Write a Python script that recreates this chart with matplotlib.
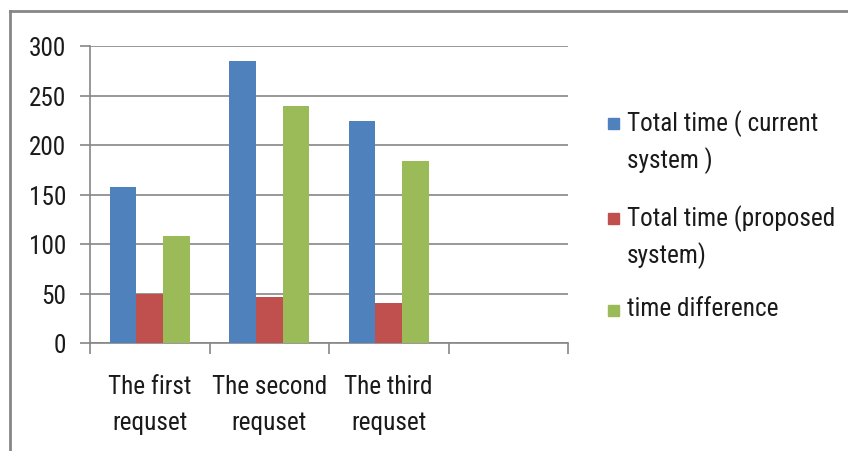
import matplotlib.pyplot as plt
from matplotlib import font_manager
from matplotlib.lines import Line2D
from matplotlib.patches import Rectangle
import numpy as np

categories = ["The first\nrequset", "The second\nrequset", "The third\nrequset", ""]
current_time = [158, 285, 224, 0]
proposed_time = [50, 46, 40, 0]
time_diff = [108, 239, 184, 0]
series_labels = [
    "Total time ( current\nsystem )",
    "Total time (proposed\nsystem)",
    "time difference",
]
colors = ["#4F81BD", "#C0504D", "#9BBB59"]

# the original uses a narrow font (Calibri); take the narrowest one we have
installed = {f.name for f in font_manager.fontManager.ttflist}
for fam in ["Liberation Sans Narrow", "DejaVu Sans Condensed", "Roboto Condensed",
            "Open Sans Condensed", "Lato", "Roboto", "DejaVu Sans"]:
    if fam in installed:
        break
plt.rcParams["font.family"] = [fam, "DejaVu Sans"]

W, H = 848, 452
fig = plt.figure(figsize=(W / 100, H / 100), dpi=100)

# scale font size so the longest legend line is ~209 px wide like the original
r = fig.canvas.get_renderer()
probe = fig.text(0, 0, "Total time (proposed", fontsize=18)
wpx = probe.get_window_extent(r).width
probe.remove()
fs = min(19, 18 * 209 / wpx)

ax = fig.add_axes([90 / W, 1 - 344 / H, 478 / W, 297 / H])

grid_c = "#868686"
x = np.arange(len(categories))
bw = 1 / 4.5
for i, vals in enumerate([current_time, proposed_time, time_diff]):
    ax.bar(x + (i - 1) * bw, vals, bw, color=colors[i], zorder=3)

ax.set_xlim(-0.5, len(categories) - 0.5)
ax.set_ylim(0, 300)
ax.set_yticks(range(0, 301, 50))
ax.yaxis.grid(True, color=grid_c, lw=1.2, zorder=0)
for s in ["top", "right"]:
    ax.spines[s].set_visible(False)
ax.spines["left"].set_color(grid_c)
ax.spines["bottom"].set_color(grid_c)
ax.spines["left"].set_linewidth(1.2)
ax.spines["bottom"].set_linewidth(1.2)

# category labels centred, boundary ticks as minor ticks
ax.set_xticks(x)
ax.set_xticklabels(categories)
for t in ax.get_xticklabels():
    t.set_linespacing(1.65)
ax.set_xticks(np.arange(-0.5, len(categories)), minor=True)
ax.tick_params(axis="x", which="major", length=0, pad=22, labelsize=fs,
               labelcolor="#1a1a1a")
ax.tick_params(axis="x", which="minor", length=8, color=grid_c, width=1.2)
ax.tick_params(axis="y", length=7, color=grid_c, width=1.2, pad=10,
               labelsize=fs, labelcolor="#1a1a1a")

# legend drawn by hand so the marker sits on the first line
leg_y = [124, 219, 311]
for lab, c, py in zip(series_labels, colors, leg_y):
    fig.add_artist(Rectangle((608 / W, 1 - (py + 6) / H), 11 / W, 11 / H,
                             transform=fig.transFigure, color=c))
    fig.text(627 / W, 1 - (py - 14) / H, lab, fontsize=fs, va="top",
             ha="left", color="#1a1a1a", linespacing=1.5)

# outer chart frame (top and left edges visible)
fig.add_artist(Line2D([10 / W, 1], [1 - 12 / H, 1 - 12 / H],
                      transform=fig.transFigure, color=grid_c, lw=2))
fig.add_artist(Line2D([10 / W, 10 / W], [0, 1 - 12 / H],
                      transform=fig.transFigure, color=grid_c, lw=2))

fig.savefig("out.png", dpi=100)
